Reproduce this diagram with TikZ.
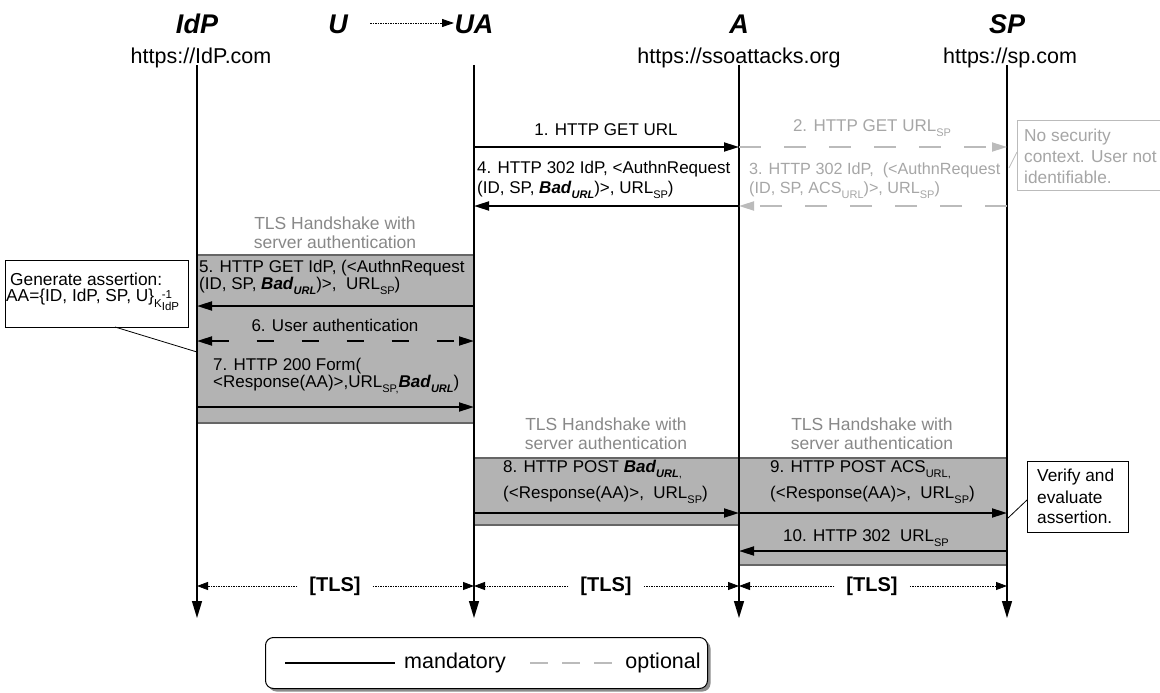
\documentclass[tikz,border=0pt]{standalone}
\usepackage{fontspec}
\setmainfont{Liberation Sans}
\usetikzlibrary{arrows.meta,shadows}
\definecolor{boxgray}{HTML}{B3B3B3}
\definecolor{boxborder}{HTML}{666666}
\definecolor{optgray}{HTML}{BBBBBB}
\definecolor{opttxt}{HTML}{A6A6A6}
\definecolor{txtgray}{HTML}{888888}
\newcommand{\msub}[1]{\raisebox{-0.55ex}{\fontsize{11}{11}\selectfont #1}}
\newcommand{\bad}{\textbf{\textit{Bad}}\msub{\textbf{\textit{URL}}}}
\newcommand{\badc}{\textbf{\textit{Bad}}\msub{\textbf{\textit{URL}},}}
\tikzset{
  hdr/.style={font=\fontsize{27}{32}\selectfont\bfseries\itshape, inner sep=0},
  url/.style={font=\fontsize{21.5}{25}\selectfont, inner sep=0},
  msg/.style={font=\fontsize{17}{20}\selectfont, inner sep=0},
  optmsg/.style={font=\fontsize{16.2}{19}\selectfont, inner sep=0, text=opttxt},
  tlsl/.style={font=\fontsize{17.5}{20}\selectfont, text=txtgray, inner sep=0},
  tlsb/.style={font=\fontsize{20}{24}\selectfont\bfseries, inner sep=0},
  legtxt/.style={font=\fontsize{21.5}{25}\selectfont, inner sep=0},
  notebox/.style={draw=black, line width=0.8pt, fill=white},
  notetxt/.style={font=\fontsize{17.3}{20}\selectfont, inner sep=0},
  arr/.style={line width=1.8pt, -{Triangle[length=15pt,width=9pt]}},
  optarr/.style={draw=optgray, line width=1.8pt, dash pattern=on 22pt off 23pt, -{Triangle[length=15pt,width=9pt]}},
  lifeline/.style={line width=1.3pt, -{Triangle[length=17pt,width=10pt]}},
  sess/.style={fill=boxgray, draw=boxborder, line width=2pt},
  tlsarr/.style={line width=0.8pt, dash pattern=on 1.5pt off 1pt, -{Triangle[length=11pt,width=8pt]}},
}
\begin{document}
\begin{tikzpicture}[x=1pt,y=-1pt]
\useasboundingbox (0,0) rectangle (1160,693);
% lifeline coordinates
\coordinate (IdPt) at (197,65); \coordinate (IdPb) at (197,618);
\coordinate (UAt) at (474,65);  \coordinate (UAb) at (474,618);
\coordinate (At) at (739,65);   \coordinate (Ab) at (739,618);
\coordinate (SPt) at (1007,65); \coordinate (SPb) at (1007,618);
% headers
\node[hdr] (hIdP) at (197,24) {IdP};
\node[hdr] (hU) at (338,24) {U};
\node[hdr] (hUA) at (474,24) {UA};
\node[hdr] (hA) at (739,24) {A};
\node[hdr] (hSP) at (1007,24) {SP};
\coordinate (uarrS) at (370,23); \coordinate (uarrE) at (454,23);
\draw[line width=0.9pt, dash pattern=on 1.5pt off 1pt, -{Triangle[length=12pt,width=8pt]}] (uarrS) -- (uarrE);
\node[url] (uIdP) at (201,58) {https://IdP.com};
\node[url] (uA) at (739,58) {https://ssoattacks.org};
\node[url] (uSP) at (1010,58) {https://sp.com};
% sessions
\draw[sess] (197,255) rectangle (474,423);
\draw[sess] (474,458) rectangle (739,525);
\draw[sess] (739,458) rectangle (1007,565);
\node[tlsl] (t1a) at (335,223) {TLS Handshake with};
\node[tlsl] (t1b) at (335,242) {server authentication};
\node[tlsl] (t2a) at (606,424) {TLS Handshake with};
\node[tlsl] (t2b) at (606,443) {server authentication};
\node[tlsl] (t3a) at (872,424) {TLS Handshake with};
\node[tlsl] (t3b) at (872,443) {server authentication};
% lifelines
\draw[lifeline] (IdPt) -- (IdPb);
\draw[lifeline] (UAt) -- (UAb);
\draw[lifeline] (At) -- (Ab);
\draw[lifeline] (SPt) -- (SPb);
% message 1
\node[msg] (m1) at (606,130) {1. HTTP GET URL};
\draw[arr] (UAt |- 0,147) -- (At |- 0,147);
% message 2
\node[optmsg, font=\fontsize{17}{20}\selectfont] (m2) at (872,128) {2. HTTP GET URL\msub{SP}};
\draw[optarr] (At |- 0,147) -- (SPt |- 0,147);
% message 3
\node[optmsg, anchor=west] (m3a) at (749,170) {3. HTTP 302 IdP,\ \ (<AuthnRequest};
\node[optmsg, anchor=west] (m3b) at (749,190) {(ID, SP, ACS\msub{URL})>, URL\msub{SP})};
\draw[optarr] (SPt |- 0,206) -- (At |- 0,206);
% note
\node[draw=optgray, line width=0.8pt, fill=white, minimum width=150pt, minimum height=70pt, anchor=north west] (nsec) at (1017,120) {};
\node[notetxt, text=opttxt, anchor=west] (ns1) at (1024,137) {No security};
\node[notetxt, text=opttxt, anchor=west] (ns2) at (1024,157) {context. User not};
\node[notetxt, text=opttxt, anchor=west] (ns3) at (1024,177) {identifiable.};
\coordinate (nsecp) at (1009,168);
\draw[optgray, line width=0.8pt] (nsecp) -- (1017,152);
% message 4
\node[msg, anchor=west] (m4a) at (477,169) {4. HTTP 302 IdP, <AuthnRequest};
\node[msg, anchor=west] (m4b) at (477,190) {(ID, SP, \bad)>, URL\msub{SP})};
\draw[arr] (At |- 0,206) -- (UAt |- 0,206);
% message 5
\node[msg, anchor=west] (m5a) at (199,268) {5. HTTP GET IdP, (<AuthnRequest};
\node[msg, anchor=west] (m5b) at (199,286) {(ID, SP, \bad)>,\ \ URL\msub{SP})};
\draw[arr] (UAt |- 0,306) -- (IdPt |- 0,306);
% message 6
\node[msg] (m6) at (335,325) {6. User authentication};
\draw[line width=1.8pt, dash pattern=on 17pt off 28pt, {Triangle[length=15pt,width=9pt]}-{Triangle[length=15pt,width=9pt]}] (IdPt |- 0,341) -- (UAt |- 0,341);
% message 7
\node[msg, anchor=west] (m7a) at (213,366) {7. HTTP 200 Form(};
\node[msg, anchor=west] (m7b) at (213,385) {<Response(AA)>,URL\msub{SP,}\bad)};
\draw[arr] (IdPt |- 0,407) -- (UAt |- 0,407);
% generate assertion
\node[notebox, minimum width=183pt, minimum height=67pt, anchor=north west] (gen) at (5,260) {};
\node[notetxt, anchor=west] (g1) at (10,279) {Generate assertion:};
\node[notetxt, anchor=west] (g2) at (6,300) {AA=\{ID, IdP, SP, U\}\raisebox{-0.7ex}{\fontsize{11.5}{12}\selectfont K\makebox[0pt][l]{\raisebox{1.5ex}{-1}}\raisebox{-0.5ex}{IdP}}};
\coordinate (genp) at (197,352);
\draw[line width=0.8pt] (115,327) -- (genp);
% message 8
\node[msg, anchor=west] (m8a) at (503,470) {8. HTTP POST \badc};
\node[msg, anchor=west] (m8b) at (503,495) {(<Response(AA)>,\ \ URL\msub{SP})};
\draw[arr] (UAt |- 0,513) -- (At |- 0,513);
% message 9
\node[msg, anchor=west] (m9a) at (770,470) {9. HTTP POST ACS\msub{URL,}};
\node[msg, anchor=west] (m9b) at (770,495) {(<Response(AA)>,\ \ URL\msub{SP})};
\draw[arr] (At |- 0,513) -- (SPt |- 0,513);
% message 10
\node[msg] (m10) at (866,538) {10. HTTP 302\ \ URL\msub{SP}};
\draw[arr] (SPt |- 0,551) -- (At |- 0,551);
% verify note
\node[notebox, minimum width=101pt, minimum height=71pt, anchor=north west] (ver) at (1027,461) {};
\node[notetxt, anchor=west] (v1) at (1037,477) {Verify and};
\node[notetxt, anchor=west] (v2) at (1037,497) {evaluate};
\node[notetxt, anchor=west] (v3) at (1037,517) {assertion.};
\coordinate (verp) at (1008,518);
\draw[line width=0.8pt] (verp) -- (1027,500);
% TLS row
\node[tlsb] (tls1) at (335,586) {[TLS]};
\node[tlsb] (tls2) at (606,586) {[TLS]};
\node[tlsb] (tls3) at (872,586) {[TLS]};
\draw[tlsarr] ([xshift=-12pt]tls1.west) -- (IdPt |- tls1);
\draw[tlsarr] ([xshift=12pt]tls1.east) -- (UAt |- tls1);
\draw[tlsarr] ([xshift=-12pt]tls2.west) -- (UAt |- tls2);
\draw[tlsarr] ([xshift=12pt]tls2.east) -- (At |- tls2);
\draw[tlsarr] ([xshift=-12pt]tls3.west) -- (At |- tls3);
\draw[tlsarr] ([xshift=12pt]tls3.east) -- (SPt |- tls3);
% legend
\node[draw=black, line width=1pt, rounded corners=8pt, fill=white, minimum width=442pt, minimum height=51pt, anchor=north west,
      drop shadow={shadow xshift=3pt, shadow yshift=-3pt, fill=black!45, opacity=1}] (leg) at (265,637) {};
\coordinate (l1s) at (285,663); \coordinate (l1e) at (395,663);
\draw[line width=1.8pt] (l1s) -- (l1e);
\node[legtxt] (lmand) at (455,663) {mandatory};
\coordinate (l2s) at (530,663); \coordinate (l2e) at (612,663);
\draw[optgray, line width=1.8pt, dash pattern=on 18pt off 14pt] (l2s) -- (l2e);
\node[legtxt] (lopt) at (663,663) {optional};
\end{tikzpicture}
\end{document}
